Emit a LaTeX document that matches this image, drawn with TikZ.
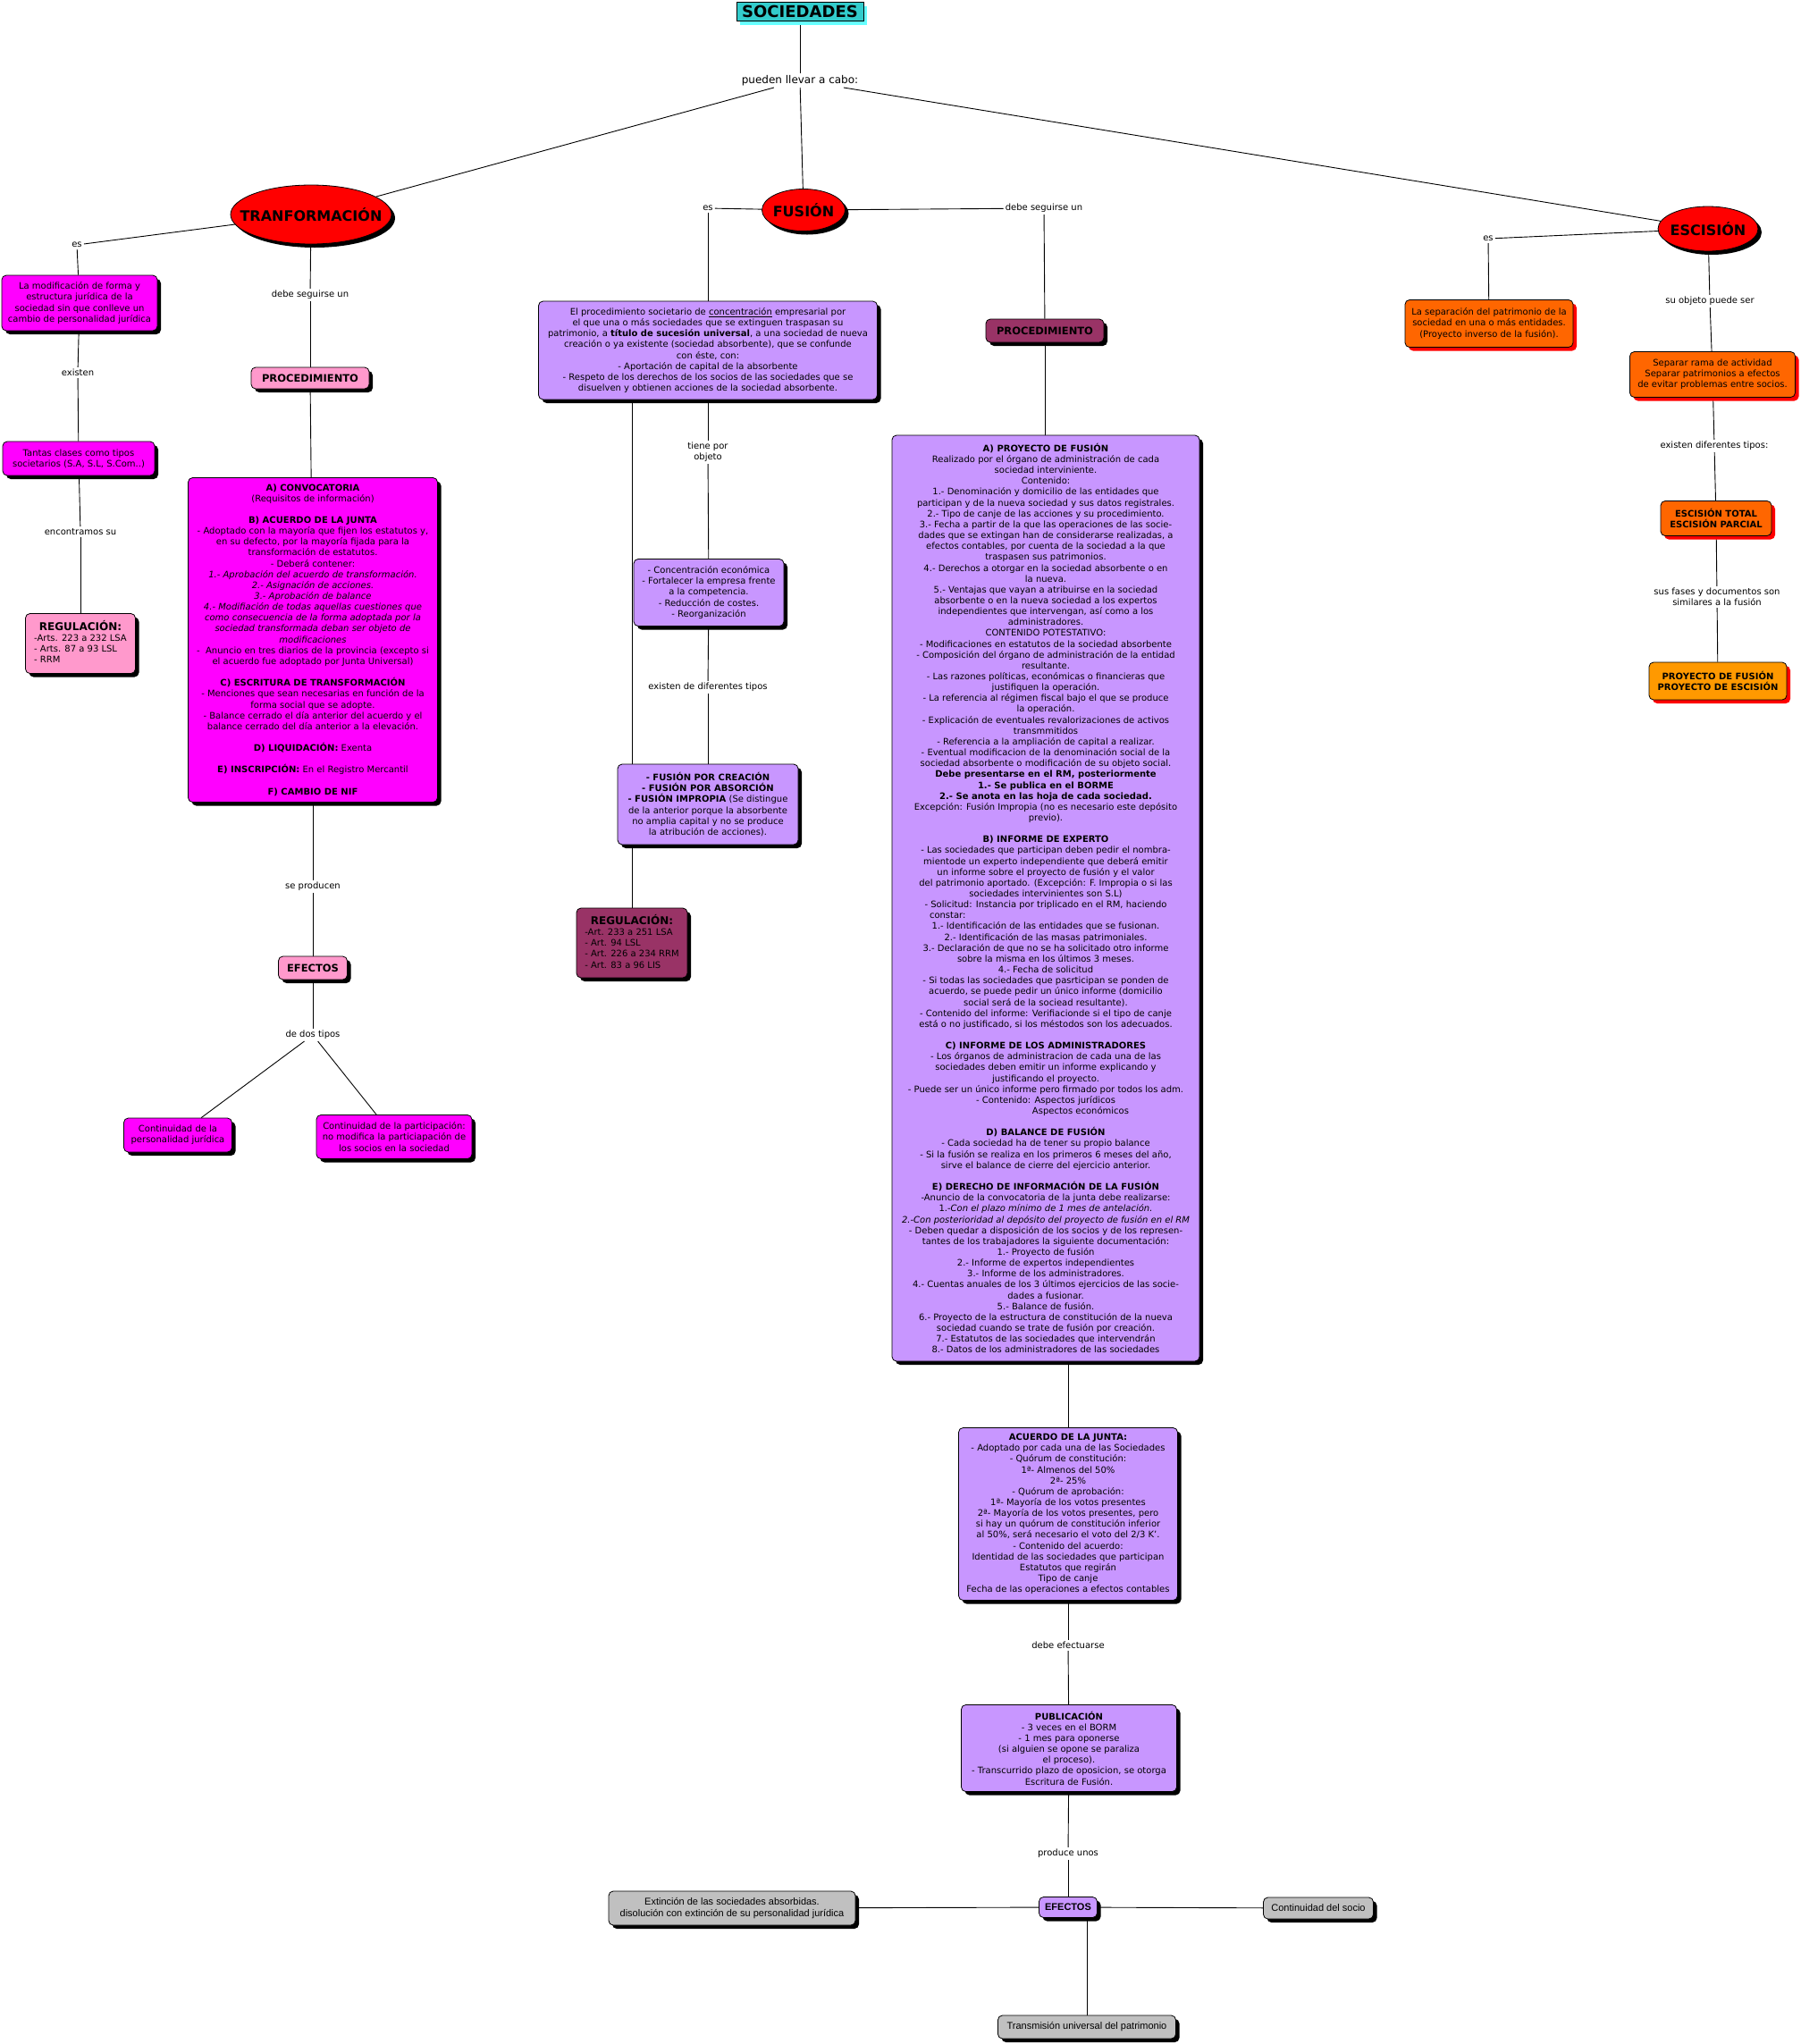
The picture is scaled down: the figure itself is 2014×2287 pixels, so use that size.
\documentclass[tikz,border=0pt]{standalone}
\usepackage{fontspec}
\setmainfont{DejaVu Sans}
\newfontfamily\narrowfont{Liberation Sans}
\usetikzlibrary{shapes.geometric,shadows}
\definecolor{magen}{HTML}{FF00FF}
\definecolor{pinkc}{HTML}{FF99CC}
\definecolor{lilac}{HTML}{C896FF}
\definecolor{maroon}{HTML}{993366}
\definecolor{grayc}{HTML}{C0C0C0}
\definecolor{orangec}{HTML}{FF6600}
\definecolor{amber}{HTML}{FF9900}
\definecolor{turq}{HTML}{33CCCC}
\definecolor{cyanl}{HTML}{66FFFF}
\newcommand\boxtxt{\fontsize{10}{12.15}\selectfont}
\pgfdeclarelayer{back}
\pgfdeclarelayer{bg}
\pgfsetlayers{back,bg,main}
\tikzset{
  base/.style={draw=black, line width=0.8pt, rounded corners=5pt, align=center, inner sep=2pt, font=\boxtxt, text=black},
  bsh/.style={drop shadow={shadow xshift=4pt, shadow yshift=-4pt, fill=black, opacity=1}},
  rsh/.style={drop shadow={shadow xshift=4pt, shadow yshift=-4pt, fill=red, opacity=1}},
  csh/.style={drop shadow={shadow xshift=4pt, shadow yshift=-4pt, fill=cyanl, opacity=1}},
  oval/.style={ellipse, draw=black, line width=0.8pt, fill=red, inner sep=0pt, font=\fontsize{16}{18}\selectfont\bfseries, bsh},
  lab/.style={font=\boxtxt, align=center, inner sep=2pt},
  conn/.style={line width=0.9pt, draw=black},
}
\begin{document}
\begin{tikzpicture}[x=1pt,y=-1pt]
\begin{pgfonlayer}{back}
\fill[white] (0,0) rectangle (2014,2287);
\end{pgfonlayer}
\useasboundingbox (0,0) rectangle (2014,2287);

% top
\node[draw=black, line width=0.8pt, fill=turq, csh, minimum width=142pt, minimum height=21pt, inner sep=0pt, font=\fontsize{18}{20}\selectfont\bfseries] (soc) at (895,13) {SOCIEDADES};
\node[lab, font=\fontsize{12}{14}\selectfont] (pl) at (895,90) {pueden llevar a cabo:};

\node[oval, minimum width=180pt, minimum height=66pt] (tranf) at (348,240) {\makebox[0pt]{TRANFORMACIÓN}};
\node[oval, minimum width=93pt, minimum height=47pt] (fus) at (899,235) {\makebox[0pt]{FUSIÓN}};
\node[oval, minimum width=112pt, minimum height=50pt] (esc) at (1911,256) {\makebox[0pt]{ESCISIÓN}};

% Transformacion branch
\node[lab] (tes) at (86,274) {es};
\node[base,bsh,fill=magen,minimum width=174pt,minimum height=62pt] (mod) at (89,339)
 {La modificación de forma y\\ estructura jurídica de la\\ sociedad sin que conlleve un\\ cambio de personalidad jurídica};
\node[lab] (texi) at (87,417) {existen};
\node[base,bsh,fill=magen,minimum width=170pt,minimum height=38pt] (tan) at (88,513)
 {Tantas clases como tipos\\ societarios (S.A, S.L, S.Com..)};
\node[lab] (tenc) at (90,595) {encontramos su};
\node[base,bsh,fill=pinkc,minimum width=123pt,minimum height=67pt] (regp) at (90,720)
 {\begin{tabular}{@{}l@{}}\multicolumn{1}{@{}c@{}}{\fontsize{12}{14}\selectfont\bfseries REGULACIÓN:}\\-Arts. 223 a 232 LSA\\- Arts. 87 a 93 LSL\\- RRM\end{tabular}};
\node[lab] (tdeb) at (347,330) {debe seguirse un};
\node[base,bsh,fill=pinkc,minimum width=132pt,minimum height=24pt,font=\fontsize{11.5}{13}\selectfont\bfseries] (tproc) at (347,423) {PROCEDIMIENTO};
\node[base,bsh,fill=magen,minimum width=279pt,minimum height=363pt] (tbig) at (350,716)
 {\textbf{A) CONVOCATORIA}\\
(Requisitos de información)\\[12.15pt]
\textbf{B) ACUERDO DE LA JUNTA}\\
- Adoptado con la mayoría que fijen los estatutos y,\\
en su defecto, por la mayoría fijada para la\\
transformación de estatutos.\\
- Deberá contener:\\
\textit{1.- Aprobación del acuerdo de transformación.}\\
\textit{2.- Asignación de acciones.}\\
\textit{3.- Aprobación de balance}\\
\textit{4.- Modifiación de todas aquellas cuestiones que}\\
\textit{como consecuencia de la forma adoptada por la}\\
\textit{sociedad transformada deban ser objeto de}\\
\textit{modificaciones}\\
-\ \ Anuncio en tres diarios de la provincia (excepto si\\
el acuerdo fue adoptado por Junta Universal)\\[12.15pt]
\textbf{C) ESCRITURA DE TRANSFORMACIÓN}\\
- Menciones que sean necesarias en función de la\\
forma social que se adopte.\\
- Balance cerrado el día anterior del acuerdo y el\\
balance cerrado del día anterior a la elevación.\\[12.15pt]
\textbf{D) LIQUIDACIÓN:} Exenta\\[12.15pt]
\textbf{E) INSCRIPCIÓN:} En el Registro Mercantil\\[12.15pt]
\textbf{F) CAMBIO DE NIF}};
\node[lab] (tsep) at (350,992) {se producen};
\node[base,bsh,fill=pinkc,minimum width=77pt,minimum height=26pt,font=\fontsize{11.5}{13}\selectfont\bfseries] (tef) at (350,1083) {EFECTOS};
\node[lab] (tdos) at (350,1158) {de dos tipos};
\node[base,bsh,fill=magen,minimum width=121pt,minimum height=38pt] (tc1) at (199,1270)
 {Continuidad de la\\ personalidad jurídica};
\node[base,bsh,fill=magen,minimum width=174pt,minimum height=49pt] (tc2) at (441,1272)
 {Continuidad de la participación:\\ no modifica la particiapación de\\ los socios en la sociedad};

% Fusion branch
\node[lab] (fes) at (792,233) {es};
\node[base,bsh,fill=lilac,minimum width=379pt,minimum height=110pt] (fdef) at (792,392)
 {El procedimiento societario de \underline{concentración} empresarial por\\
 el que una o más sociedades que se extinguen traspasan su\\
 patrimonio, a \textbf{título de sucesión universal}, a una sociedad de nueva\\
 creación o ya existente (sociedad absorbente), que se confunde\\
 con éste, con:\\
 - Aportación de capital de la absorbente\\
 - Respeto de los derechos de los socios de las sociedades que se\\
 disuelven y obtienen acciones de la sociedad absorbente.};
\node[lab] (ftie) at (792,506) {tiene por\\objeto};
\node[base,bsh,fill=lilac,minimum width=168pt,minimum height=75pt] (fobj) at (793,663)
 {- Concentración económica\\- Fortalecer la empresa frente\\a la competencia.\\- Reducción de costes.\\- Reorganización};
\node[lab] (fexi) at (792,769) {existen de diferentes tipos};
\node[base,bsh,fill=lilac,minimum width=202pt,minimum height=90pt] (ftip) at (792,900)
 {\textbf{- FUSIÓN POR CREACIÓN}\\\textbf{- FUSIÓN POR ABSORCIÓN}\\\textbf{- FUSIÓN IMPROPIA} (Se distingue\\de la anterior porque la absorbente\\no amplia capital y no se produce\\la atribución de acciones).};
\node[base,bsh,fill=maroon,minimum width=124pt,minimum height=78pt] (fregm) at (707,1055)
 {\begin{tabular}{@{}l@{}}\multicolumn{1}{@{}c@{}}{\fontsize{12}{14}\selectfont\bfseries REGULACIÓN:}\\-Art. 233 a 251 LSA\\- Art. 94 LSL\\- Art. 226 a 234 RRM\\- Art. 83 a 96 LIS\end{tabular}};
\node[lab] (fdeb) at (1168,233) {debe seguirse un};
\node[base,bsh,fill=maroon,minimum width=132pt,minimum height=26pt,font=\fontsize{11.5}{13}\selectfont\bfseries] (fproc) at (1169,370) {PROCEDIMIENTO};
\node[base,bsh,fill=lilac,minimum width=344pt,minimum height=1036pt] (fbig) at (1170,1005)
 {\textbf{A) PROYECTO DE FUSIÓN}\\
Realizado por el órgano de administración de cada\\
sociedad interviniente.\\
Contenido:\\
1.- Denominación y domicilio de las entidades que\\
participan y de la nueva sociedad y sus datos registrales.\\
2.- Tipo de canje de las acciones y su procedimiento.\\
3.- Fecha a partir de la que las operaciones de las socie-\\
dades que se extingan han de considerarse realizadas, a\\
efectos contables, por cuenta de la sociedad a la que\\
traspasen sus patrimonios.\\
4.- Derechos a otorgar en la sociedad absorbente o en\\
la nueva.\\
5.- Ventajas que vayan a atribuirse en la sociedad\\
absorbente o en la nueva sociedad a los expertos\\
independientes que intervengan, así como a los\\
administradores.\\
CONTENIDO POTESTATIVO:\\
- Modificaciones en estatutos de la sociedad absorbente\\
- Composición del órgano de administración de la entidad\\
resultante.\\
- Las razones políticas, económicas o financieras que\\
justifiquen la operación.\\
- La referencia al régimen fiscal bajo el que se produce\\
la operación.\\
- Explicación de eventuales revalorizaciones de activos\\
transmmitidos\\
- Referencia a la ampliación de capital a realizar.\\
- Eventual modificacion de la denominación social de la\\
sociedad absorbente o modificación de su objeto social.\\
\textbf{Debe presentarse en el RM, posteriormente}\\
\textbf{1.- Se publica en el BORME}\\
\textbf{2.- Se anota en las hoja de cada sociedad.}\\
Excepción: Fusión Impropia (no es necesario este depósito\\
previo).\\[12.15pt]
\textbf{B) INFORME DE EXPERTO}\\
- Las sociedades que participan deben pedir el nombra-\\
mientode un experto independiente que deberá emitir\\
un informe sobre el proyecto de fusión y el valor\\
del patrimonio aportado. (Excepción: F. Impropia o si las\\
sociedades intervinientes son S.L)\\
- Solicitud: Instancia por triplicado en el RM, haciendo\\
\makebox[260pt][l]{constar:}\\
1.- Identificación de las entidades que se fusionan.\\
2.- Identificación de las masas patrimoniales.\\
3.- Declaración de que no se ha solicitado otro informe\\
sobre la misma en los últimos 3 meses.\\
4.- Fecha de solicitud\\
- Si todas las sociedades que pasrticipan se ponden de\\
acuerdo, se puede pedir un único informe (domicilio\\
social será de la sociead resultante).\\
- Contenido del informe: Verifiacionde si el tipo de canje\\
está o no justificado, si los méstodos son los adecuados.\\[12.15pt]
\textbf{C) INFORME DE LOS ADMINISTRADORES}\\
- Los órganos de administracion de cada una de las\\
sociedades deben emitir un informe explicando y\\
justificando el proyecto.\\
- Puede ser un único informe pero firmado por todos los adm.\\
- Contenido: Aspectos jurídicos\\
\makebox[186pt][r]{Aspectos económicos}\\[12.15pt]
\textbf{D) BALANCE DE FUSIÓN}\\
- Cada sociedad ha de tener su propio balance\\
- Si la fusión se realiza en los primeros 6 meses del año,\\
sirve el balance de cierre del ejercicio anterior.\\[12.15pt]
\textbf{E) DERECHO DE INFORMACIÓN DE LA FUSIÓN}\\
-Anuncio de la convocatoria de la junta debe realizarse:\\
1.-\textit{Con el plazo mínimo de 1 mes de antelación.}\\
\textit{2.-Con posterioridad al depósito del proyecto de fusión en el RM}\\
- Deben quedar a disposición de los socios y de los represen-\\
tantes de los trabajadores la siguiente documentación:\\
1.- Proyecto de fusión\\
2.- Informe de expertos independientes\\
3.- Informe de los administradores.\\
4.- Cuentas anuales de los 3 últimos ejercicios de las socie-\\
dades a fusionar.\\
5.- Balance de fusión.\\
6.- Proyecto de la estructura de constitución de la nueva\\
sociedad cuando se trate de fusión por creación.\\
7.- Estatutos de las sociedades que intervendrán\\
8.- Datos de los administradores de las sociedades};
\node[base,bsh,fill=lilac,minimum width=245pt,minimum height=193pt] (facu) at (1195,1694)
 {\textbf{ACUERDO DE LA JUNTA:}\\
- Adoptado por cada una de las Sociedades\\
- Quórum de constitución:\\
1ª- Almenos del 50\%\\
2ª- 25\%\\
- Quórum de aprobación:\\
1ª- Mayoría de los votos presentes\\
2ª- Mayoría de los votos presentes, pero\\
si hay un quórum de constitución inferior\\
al 50\%, será necesario el voto del 2/3 K'.\\
- Contenido del acuerdo:\\
Identidad de las sociedades que participan\\
Estatutos que regirán\\
Tipo de canje\\
Fecha de las operaciones a efectos contables};
\node[lab] (fdef2) at (1195,1841) {debe efectuarse};
\node[base,bsh,fill=lilac,minimum width=241pt,minimum height=97pt] (fpub) at (1196,1956)
 {\textbf{PUBLICACIÓN}\\
- 3 veces en el BORM\\
- 1 mes para oponerse\\
(si alguien se opone se paraliza\\
el proceso).\\
- Transcurrido plazo de oposicion, se otorga\\
Escritura de Fusión.};
\node[lab] (fpro) at (1195,2074) {produce unos};
\node[base,bsh,fill=lilac,minimum width=65pt,minimum height=23pt,font=\narrowfont\fontsize{11}{13}\selectfont\bfseries] (fef) at (1195,2134) {EFECTOS};
\node[base,bsh,fill=grayc,minimum width=276pt,minimum height=38pt,font=\narrowfont\fontsize{11}{13.5}\selectfont] (fext) at (819,2135)
 {Extinción de las sociedades absorbidas.\\ disolución con extinción de su personalidad jurídica};
\node[base,bsh,fill=grayc,minimum width=123pt,minimum height=24pt,font=\narrowfont\fontsize{11}{13}\selectfont] (fcon) at (1475,2135) {Continuidad del socio};
\node[base,bsh,fill=grayc,minimum width=199pt,minimum height=26pt,font=\narrowfont\fontsize{11}{13}\selectfont] (ftra) at (1216,2268) {Transmisión universal del patrimonio};

% Escision branch
\node[lab] (ees) at (1665,267) {es};
\node[base,rsh,fill=orangec,minimum width=188pt,minimum height=53pt] (esep) at (1666,362)
 {La separación del patrimonio de la\\sociedad en una o más entidades.\\(Proyecto inverso de la fusión).};
\node[lab] (eobj) at (1913,337) {su objeto puede ser};
\node[base,rsh,fill=orangec,minimum width=185pt,minimum height=51pt] (esepa) at (1916,419)
 {Separar rama de actividad\\Separar patrimonios a efectos\\de evitar problemas entre socios.};
\node[lab] (eexi) at (1918,499) {existen diferentes tipos:};
\node[base,rsh,fill=orangec,minimum width=124pt,minimum height=39pt,font=\boxtxt\bfseries] (etot) at (1920,580)
 {ESCISIÓN TOTAL\\ESCISIÓN PARCIAL};
\node[lab] (efas) at (1921,668) {sus fases y documentos son\\similares a la fusión};
\node[base,rsh,fill=amber,minimum width=154pt,minimum height=42pt,font=\boxtxt\bfseries] (eproy) at (1922,762)
 {PROYECTO DE FUSIÓN\\PROYECTO DE ESCISIÓN};

% connectors
\begin{pgfonlayer}{bg}
\draw[conn] (soc) -- (pl);
\draw[conn] (pl) -- (tranf);
\draw[conn] (pl) -- (fus);
\draw[conn] (pl) -- (esc);
\draw[conn] (tranf) -- (tes);
\draw[conn] (tes) -- (mod);
\draw[conn] (mod) -- (texi);
\draw[conn] (texi) -- (tan);
\draw[conn] (tan) -- (tenc);
\draw[conn] (tenc) -- (regp);
\draw[conn] (tranf) -- (tdeb);
\draw[conn] (tdeb) -- (tproc);
\draw[conn] (tproc) -- (tbig);
\draw[conn] (tbig) -- (tsep);
\draw[conn] (tsep) -- (tef);
\draw[conn] (tef) -- (tdos);
\draw[conn] (tdos) -- (tc1);
\draw[conn] (tdos) -- (tc2);
\draw[conn] (fus) -- (fes);
\draw[conn] (fes) -- (fdef);
\draw[conn] (fdef) -- (ftie);
\draw[conn] (ftie) -- (fobj);
\draw[conn] (fobj) -- (fexi);
\draw[conn] (fexi) -- (ftip);
\draw[conn] (fregm.north) -- (fregm.north |- fdef.south);
\draw[conn] (fus) -- (fdeb);
\draw[conn] (fdeb) -- (fproc);
\draw[conn] (fproc) -- (fproc |- fbig.north);
\draw[conn] (facu.north) -- (facu.north |- fbig.south);
\draw[conn] (facu) -- (fdef2);
\draw[conn] (fdef2) -- (fpub);
\draw[conn] (fpub) -- (fpro);
\draw[conn] (fpro) -- (fef);
\draw[conn] (fef) -- (fext);
\draw[conn] (fef) -- (fcon);
\draw[conn] (ftra.north) -- (ftra.north |- fef.south);
\draw[conn] (esc) -- (ees);
\draw[conn] (ees) -- (esep);
\draw[conn] (esc) -- (eobj);
\draw[conn] (eobj) -- (esepa);
\draw[conn] (esepa) -- (eexi);
\draw[conn] (eexi) -- (etot);
\draw[conn] (etot) -- (efas);
\draw[conn] (efas) -- (eproy);
\end{pgfonlayer}
\end{tikzpicture}
\end{document}
